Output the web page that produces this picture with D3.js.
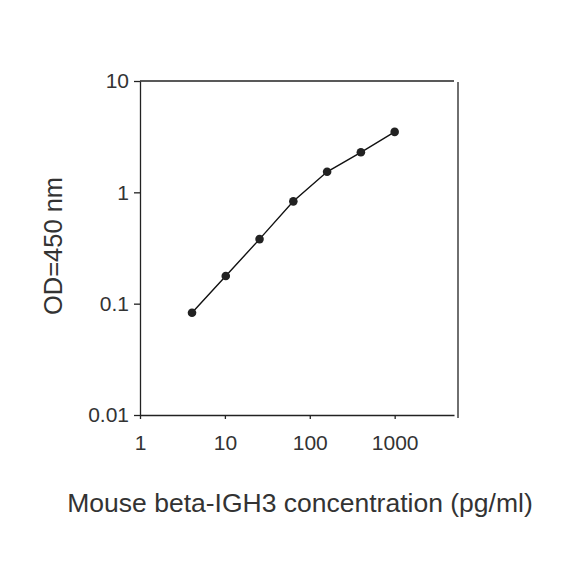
<!DOCTYPE html>
<meta charset="utf-8">
<head>
<style>
  body { margin: 0; background: #fff; }
  text { font-family: "Liberation Sans", Arial, sans-serif; fill: #333; }
</style>
</head>
<body>
<script src="https://d3js.org/d3.v7.min.js"></script>
<script>

// standard curve values (pg/ml vs OD)
var conc = [4.1, 10.24, 25.6, 64, 160, 400, 1000];
var od = [0.083, 0.177, 0.38, 0.83, 1.53, 2.29, 3.49];

var xTicks = [1, 10, 100, 1000];
var yTicks = [0.01, 0.1, 1, 10];

var width = 584,
    height = 584;

var svg = d3.select("body").append("svg")
    .attr("width", width)
    .attr("height", height);

//log scales
var x = d3.scaleLog().domain([1, 5000]).range([140, 454]);
var y = d3.scaleLog().domain([0.01, 10]).range([415, 81]);

var lineColor = "#222";

//y axis
var yAxis = d3.axisLeft(y)
  .tickValues(yTicks)
  .tickSize(6)
  .tickSizeOuter(0)
  .tickPadding(5)
  .tickFormat(function(d){ return d3.format("")(d); });

var gy = svg.append("g")
  .attr("transform", "translate(140,0)")
  .call(yAxis);
gy.selectAll("text").style("font-size", "21px").attr("fill", "#333").attr("font-family", null);
gy.selectAll("line, path").attr("stroke", lineColor).attr("stroke-width", 1.3);

//x axis
var xAxis = d3.axisBottom(x)
  .tickValues(xTicks)
  .tickSize(4)
  .tickSizeOuter(0)
  .tickPadding(16)
  .tickFormat(d3.format(""));

var gx = svg.append("g")
  .attr("transform", "translate(0,415)")
  .call(xAxis);
gx.selectAll("text").style("font-size", "21px").attr("fill", "#333").attr("font-family", null);
gx.selectAll("line, path").attr("stroke", lineColor).attr("stroke-width", 1.3);

//top border and the offset right border
svg.append("line")
  .attr("x1", 140).attr("x2", 454)
  .attr("y1", 81).attr("y2", 81)
  .attr("stroke", lineColor).attr("stroke-width", 1.3);

svg.append("line")
  .attr("x1", 458).attr("x2", 458)
  .attr("y1", 82).attr("y2", 418)
  .attr("stroke", lineColor).attr("stroke-width", 1.3);

//curve
var pts = conc.map(function(c, i){ return [c, od[i]]; });

var line = d3.line()
  .x(function(d){ return x(d[0]); })
  .y(function(d){ return y(d[1]); });

svg.append("path")
  .datum(pts)
  .attr("d", line)
  .attr("fill", "none")
  .attr("stroke", "#111")
  .attr("stroke-width", 1.4);

svg.selectAll("circle.pt")
  .data(pts)
  .enter().append("circle")
  .attr("class", "pt")
  .attr("cx", function(d){ return x(d[0]); })
  .attr("cy", function(d){ return y(d[1]); })
  .attr("r", 4.3)
  .attr("fill", "#222");

//axis titles
svg.append("text")
  .attr("x", 300)
  .attr("y", 512)
  .attr("text-anchor", "middle")
  .style("font-size", "26.5px")
  .text("Mouse beta-IGH3 concentration (pg/ml)");

svg.append("text")
  .attr("transform", "translate(62,246) rotate(-90)")
  .attr("text-anchor", "middle")
  .style("font-size", "25.5px")
  .text("OD=450 nm");

</script>
</body>
